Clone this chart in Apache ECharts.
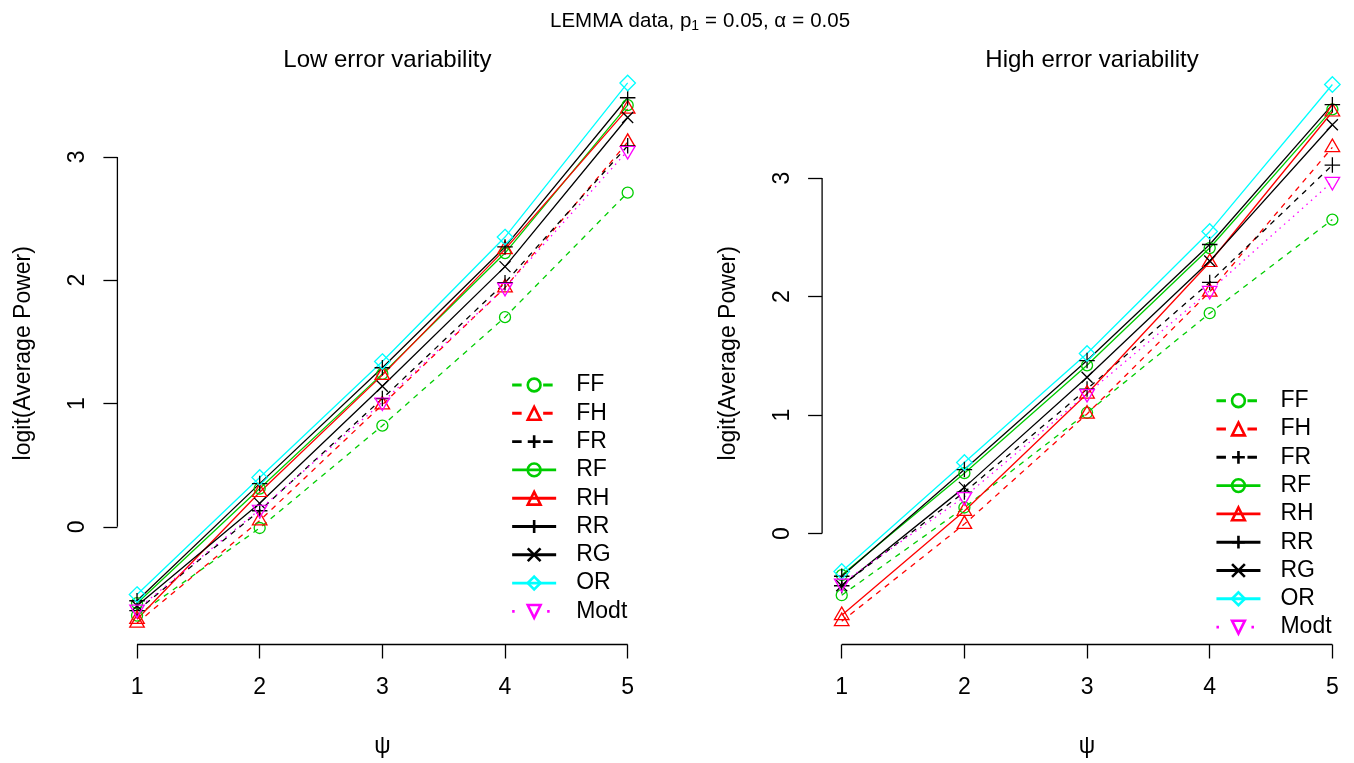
<!DOCTYPE html>
<html><head><meta charset="utf-8">
<script src="https://cdn.jsdelivr.net/npm/echarts@6/dist/echarts.min.js"></script>
<style>html,body{margin:0;padding:0;background:#fff}#c{width:1354px;height:763px}</style>
</head><body><div id="c"></div>
<script>
// ---------------- data ----------------
const psi = [1, 2, 3, 4, 5];
const xTicks = [1, 2, 3, 4, 5];
const yTicks = [0, 1, 2, 3];
const methods = ['FF', 'FH', 'FR', 'RF', 'RH', 'RR', 'RG', 'OR', 'Modt'];

// Low error variability
const lowFF   = [-0.72, -0.01, 0.82, 1.70, 2.71];
const lowFH   = [-0.78,  0.05, 0.99, 1.94, 3.12];
const lowFR   = [-0.68,  0.13, 1.04, 1.98, 3.09];
const lowRF   = [-0.62,  0.31, 1.24, 2.22, 3.42];
const lowRH   = [-0.75,  0.28, 1.23, 2.25, 3.39];
const lowRR   = [-0.60,  0.35, 1.29, 2.27, 3.48];
const lowRG   = [-0.64,  0.19, 1.14, 2.11, 3.32];
const lowOR   = [-0.55,  0.40, 1.34, 2.35, 3.60];
const lowModt = [-0.67,  0.14, 1.01, 1.94, 3.05];

// High error variability
const highFF   = [-0.52, 0.22, 1.02, 1.86, 2.65];
const highFH   = [-0.74, 0.08, 1.01, 2.04, 3.26];
const highFR   = [-0.44, 0.35, 1.22, 2.12, 3.11];
const highRF   = [-0.35, 0.51, 1.42, 2.41, 3.58];
const highRH   = [-0.69, 0.19, 1.18, 2.29, 3.56];
const highRR   = [-0.36, 0.54, 1.46, 2.44, 3.62];
const highRG   = [-0.44, 0.39, 1.32, 2.30, 3.45];
const highOR   = [-0.32, 0.60, 1.52, 2.55, 3.79];
const highModt = [-0.42, 0.31, 1.18, 2.05, 2.97];

const panelTitles = ['Low error variability', 'High error variability'];
const xName = 'ψ';
const yName = 'logit(Average Power)';

// ---------------- build ----------------
const panels = [
  {FF: lowFF, FH: lowFH, FR: lowFR, RF: lowRF, RH: lowRH, RR: lowRR, RG: lowRG, OR: lowOR, Modt: lowModt},
  {FF: highFF, FH: highFH, FR: highFR, RF: highRF, RH: highRH, RR: highRR, RG: highRG, OR: highOR, Modt: highModt}
];

const FONT = '"Liberation Sans", Arial, Helvetica, sans-serif';
const GREEN = '#00CD00', RED = '#FF0000', BLACK = '#000000', CYAN = '#00FFFF', MAG = '#FF00FF';
const SYM = {
  circle: 'path://M10,5A5,5,0,1,1,0,5A5,5,0,1,1,10,5Z',
  up: 'path://M5,0L10,8.66L0,8.66Z',
  plus: 'path://M0,5L10,5M5,0L5,10',
  cross: 'path://M0,0L10,10M10,0L0,10',
  diamond: 'path://M5,0L10,5L5,10L0,5Z',
  down: 'path://M0,0L10,0L5,8.66Z'
};
const SSIZE = {circle: [11, 11], up: [14.5, 12.5], plus: [15.5, 15.5], cross: [11, 11], diamond: [15.5, 15.5], down: [14.5, 12.5]};
const SOFF = {circle: [0, 0], up: [0, -2], plus: [0, 0], cross: [0, 0], diamond: [0, 0], down: [0, 2]};
const STY = {
  FF:   {c: GREEN, lty: 'dash', pch: 'circle'},
  FH:   {c: RED,   lty: 'dash', pch: 'up'},
  FR:   {c: BLACK, lty: 'dash', pch: 'plus'},
  RF:   {c: GREEN, lty: 'solid', pch: 'circle'},
  RH:   {c: RED,   lty: 'solid', pch: 'up'},
  RR:   {c: BLACK, lty: 'solid', pch: 'plus'},
  RG:   {c: BLACK, lty: 'solid', pch: 'cross'},
  OR:   {c: CYAN,  lty: 'solid', pch: 'diamond'},
  Modt: {c: MAG,   lty: 'dot', pch: 'down'}
};
const PLOT_DASH = {solid: 'solid', dash: [5.5, 5.5], dot: [1.5, 4.5]};
const LEG_DASH = {solid: 'solid', dash: [9.5, 21.5], dot: [2.5, 32.5]};

const xRange = [0.84, 5.16];
const yRanges = [[-0.955, 3.77], [-0.936, 3.98]];
const grids = [
  {left: 117.4, top: 62, width: 529.9, height: 586},
  {left: 822.1, top: 62, width: 529.9, height: 586.3}
];
const legPos = [{left: 510.7, top: 371}, {left: 1215, top: 386.7}];

const series = [];
const xAxes = [], yAxes = [], legends = [], titles = [];

[0, 1].forEach(p => {
  xAxes.push({
    type: 'value', gridIndex: p, min: xRange[0], max: xRange[1],
    name: xName, nameLocation: 'middle', nameGap: 90.5,
    nameTextStyle: {fontSize: 23, fontFamily: FONT, color: '#000', lineHeight: 23},
    axisLine: {show: false, onZero: false},
    splitLine: {show: false},
    axisTick: {show: true, length: 14, customValues: xTicks, lineStyle: {color: '#000', width: 1.3}},
    axisLabel: {show: true, customValues: xTicks, margin: 31.5, fontSize: 23, fontFamily: FONT, color: '#000', lineHeight: 23}
  });
  yAxes.push({
    type: 'value', gridIndex: p, min: yRanges[p][0], max: yRanges[p][1],
    name: yName, nameLocation: 'middle', nameGap: 82, nameRotate: 90,
    nameTextStyle: {fontSize: 23, fontFamily: FONT, color: '#000', lineHeight: 23},
    axisLine: {show: false, onZero: false},
    splitLine: {show: false},
    axisTick: {show: true, length: 14, customValues: yTicks, lineStyle: {color: '#000', width: 1.3}},
    axisLabel: {show: true, customValues: yTicks, rotate: 90, margin: 28, fontSize: 23, fontFamily: FONT, color: '#000', lineHeight: 23}
  });
  // axis lines spanning first..last tick (R style)
  series.push({
    type: 'line', xAxisIndex: p, yAxisIndex: p, silent: true, clip: false, symbol: 'none',
    data: [[xTicks[0], yRanges[p][0]], [xTicks[xTicks.length - 1], yRanges[p][0]]],
    lineStyle: {color: '#000', width: 1.3}, z: 1
  });
  series.push({
    type: 'line', xAxisIndex: p, yAxisIndex: p, silent: true, clip: false, symbol: 'none',
    data: [[xRange[0], yTicks[0]], [xRange[0], yTicks[yTicks.length - 1]]],
    lineStyle: {color: '#000', width: 1.3}, z: 1
  });
  methods.forEach(m => {
    const s = STY[m];
    series.push({
      name: m, type: 'line', xAxisIndex: p, yAxisIndex: p, silent: true, clip: false,
      data: psi.map((x, j) => [x, panels[p][m][j]]),
      symbol: SYM[s.pch], symbolSize: SSIZE[s.pch], symbolOffset: SOFF[s.pch], showAllSymbol: true,
      lineStyle: {color: s.c, width: 1.3, type: PLOT_DASH[s.lty]},
      itemStyle: {color: 'rgba(0,0,0,0)', borderColor: s.c, borderWidth: 1.3},
      emphasis: {disabled: true}, z: 2
    });
  });
  legends.push({
    orient: 'vertical', left: legPos[p].left, top: legPos[p].top, padding: 0,
    itemGap: 0.3, itemWidth: 44, itemHeight: 16, selectedMode: false,
    textStyle: {fontSize: 23, fontFamily: FONT, color: '#000', lineHeight: 28, padding: [0, 0, 0, 15]},
    data: methods.map(m => ({
      name: m,
      itemStyle: {color: 'rgba(0,0,0,0)', borderColor: STY[m].c, borderWidth: 2.6},
      lineStyle: {color: STY[m].c, width: 2.9, type: LEG_DASH[STY[m].lty]}
    }))
  });
  titles.push({
    text: panelTitles[p], left: grids[p].left + grids[p].width / 2, top: 43.5, textAlign: 'center',
    textStyle: {fontSize: 24, fontWeight: 'normal', fontFamily: FONT, color: '#000', lineHeight: 24}
  });
});

titles.push({
  text: '{a|LEMMA data, p}{s|1}{e|=}{a|0.05, α}{e|=}{a|0.05}', left: 545, top: 4,
  textStyle: {
    fontWeight: 'normal',
    rich: {
      a: {fontSize: 20.5, fontWeight: 'normal', fontFamily: FONT, color: '#000', lineHeight: 24},
      e: {fontSize: 20.5, fontWeight: 'normal', fontFamily: FONT, color: '#000', lineHeight: 24, padding: [0, 6, 0, 6]},
      s: {fontSize: 14, fontWeight: 'normal', fontFamily: FONT, color: '#000', lineHeight: 15, verticalAlign: 'bottom'}
    }
  }
});

const chart = echarts.init(document.getElementById('c'), null, {renderer: 'canvas'});
chart.setOption({
  animation: false,
  backgroundColor: '#fff',
  title: titles,
  legend: legends,
  grid: grids,
  xAxis: xAxes,
  yAxis: yAxes,
  series: series
});
</script></body></html>
